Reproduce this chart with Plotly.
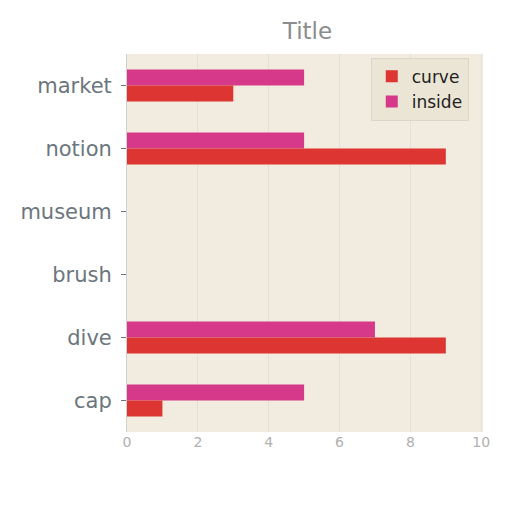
# horizontal grouped bars, two series
from plotly.graph_objects import Figure, Bar

# data
categories = ['market', 'notion', 'museum', 'brush', 'dive', 'cap']
curve = [3, 9, 0, 0, 9, 1]
inside = [5, 5, 0, 0, 7, 5]
x_ticks = [0, 2, 4, 6, 8, 10]

grey = '#6b767d'

fig = Figure()
# inside first so it sits above curve once the y axis is reversed
fig.add_trace(Bar(y=categories, x=inside, name='inside', orientation='h',
                  marker=dict(color='#d6398a', line=dict(width=0))))
fig.add_trace(Bar(y=categories, x=curve, name='curve', orientation='h',
                  marker=dict(color='#dc3532', line=dict(width=0))))

fig.update_layout(dict(
    width=512,
    height=512,
    margin=dict(l=119, r=37, t=46, b=88, autoexpand=False),
    paper_bgcolor='white',
    plot_bgcolor='#f1ecdf',
    barmode='group',
    bargap=0.49,
    bargroupgap=0,
    font=dict(family='DejaVu Sans', color=grey),
    title=dict(
        text='Title',
        x=0.585, xanchor='center',
        y=0.955, yanchor='middle',
        font=dict(size=23, color='#8c8c8c'),
    ),
    xaxis=dict(
        range=[0, 10.05],
        tickvals=x_ticks,
        showgrid=True,
        gridcolor='#e4e0d6',
        zeroline=False,
        showline=False,
        ticks='',
        tickfont=dict(size=14, color='#b0b0b0'),
    ),
    yaxis=dict(
        categoryorder='array',
        categoryarray=categories,
        autorange='reversed',
        showgrid=False,
        showline=True,
        linecolor='#d0d0d0',
        ticks='outside',
        ticklen=5,
        tickcolor=grey,
        ticklabelstandoff=5,
        tickfont=dict(size=21, color=grey),
    ),
    legend=dict(
        x=0.96, xanchor='right',
        y=0.99, yanchor='top',
        bgcolor='#ebe5d6',
        bordercolor='#dcd6c8',
        borderwidth=1,
        font=dict(size=17, color='#222222'),
        traceorder='reversed',
    ),
))

fig.write_html('out.html')
